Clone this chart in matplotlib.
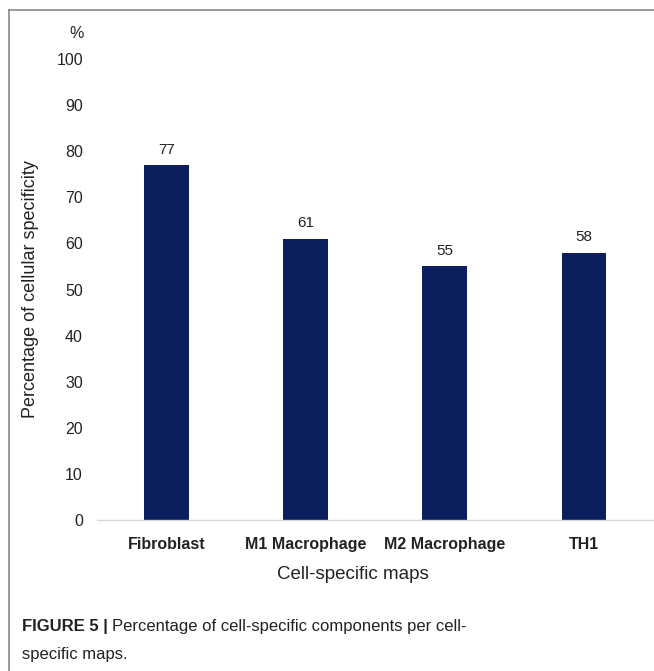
import matplotlib
matplotlib.use("Agg")
import matplotlib.pyplot as plt
from matplotlib.lines import Line2D

plt.rcParams['font.family'] = ['Liberation Sans', 'DejaVu Sans']

categories = ["Fibroblast", "M1 Macrophage", "M2 Macrophage", "TH1"]
values = [77, 61, 55, 58]
yticks = [0, 10, 20, 30, 40, 50, 60, 70, 80, 90, 100]

bar_color = "#0b1f5e"
text_color = "#222222"

fig = plt.figure(figsize=(6.54, 6.71), dpi=100)
ax = fig.add_axes([0.148, 0.225, 0.851, 0.687])

x = range(len(categories))
ax.bar(x, values, width=0.32, color=bar_color, zorder=2)
for xi, v in zip(x, values):
    ax.annotate(f"{v}", (xi, v), xytext=(0, 6), textcoords="offset points",
                ha="center", va="bottom", fontsize=11, color=text_color)

ax.set_xlim(-0.5, len(categories) - 0.5)
ax.set_ylim(0, 100)
ax.set_yticks(yticks)
ax.set_yticklabels([str(t) for t in yticks], fontsize=11.5, color=text_color)
ax.set_xticks(list(x))
ax.set_xticklabels(categories, fontsize=11.5, fontweight="bold", color=text_color)
ax.tick_params(axis="both", length=0)
ax.tick_params(axis="y", pad=10)
ax.tick_params(axis="x", pad=12)

for s in ["top", "right", "left"]:
    ax.spines[s].set_visible(False)
ax.spines["bottom"].set_color("#d9d9d9")
ax.spines["bottom"].set_linewidth(1.0)

ax.set_ylabel("Percentage of cellular specificity", fontsize=13, color=text_color)
ax.set_xlabel("Cell-specific maps", fontsize=13.5, color=text_color)
ax.yaxis.set_label_coords(-0.103, 0.5)
ax.xaxis.set_label_coords(0.46, -0.1)

# unit marker above the y axis
fig.text(77 / 654, 1 - 33 / 671, "%", ha="center", va="center", fontsize=11.5, color=text_color)

# frame lines around the figure panel
fig.add_artist(Line2D([9 / 654, 1.0], [1 - 10 / 671, 1 - 10 / 671], color="#8a8a8a", lw=1.2))
fig.add_artist(Line2D([9 / 654, 9 / 654], [0.0, 1 - 10 / 671], color="#8a8a8a", lw=1.2))

# caption
cap_y1 = 1 - 627 / 671
cap_y2 = 1 - 655 / 671
t1 = fig.text(22 / 654, cap_y1, "FIGURE 5 | ", fontsize=12, fontweight="bold",
              color=text_color, va="center", ha="left")
fig.canvas.draw()
bb = t1.get_window_extent()
fig.text(bb.x1 / fig.bbox.width, cap_y1, "Percentage of cell-specific components per cell-",
         fontsize=12, color=text_color, va="center", ha="left")
fig.text(22 / 654, cap_y2, "specific maps.", fontsize=12, color=text_color, va="center", ha="left")

fig.savefig("out.png", dpi=100)
